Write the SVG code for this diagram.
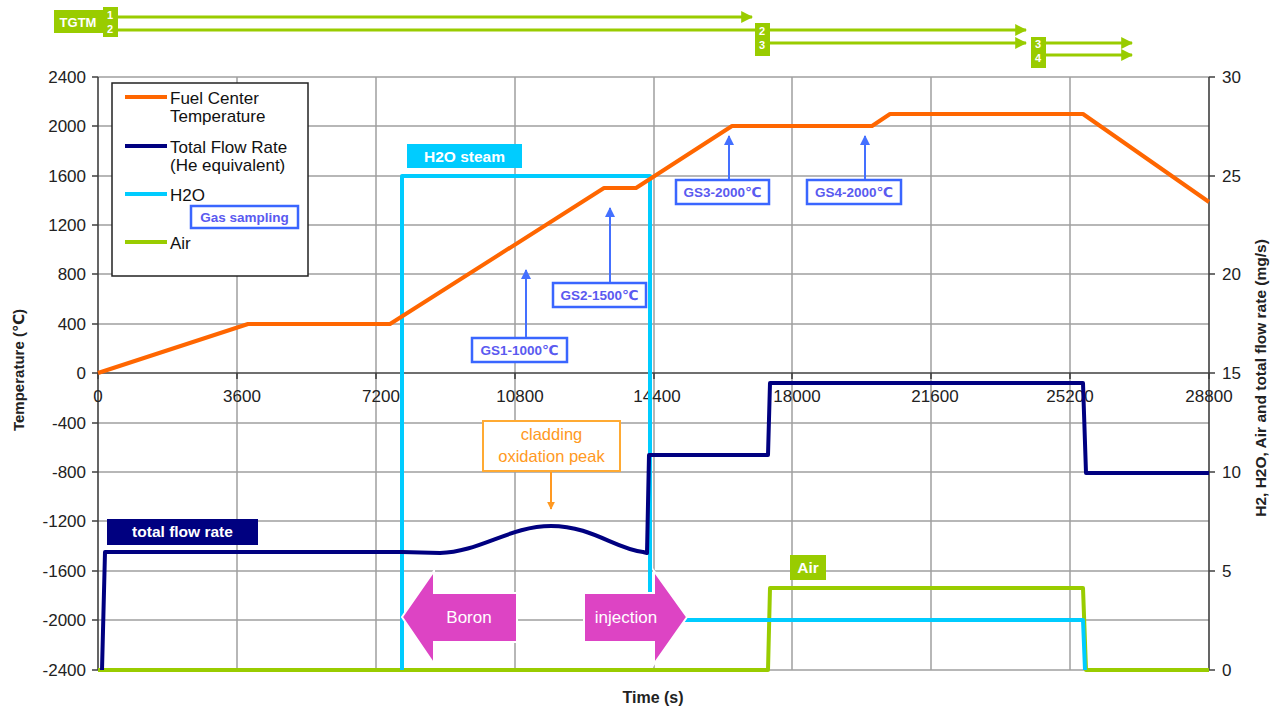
<svg xmlns="http://www.w3.org/2000/svg" width="1270" height="708" viewBox="0 0 1270 708">
<defs>
<style>
text{font-family:"Liberation Sans",Arial,"DejaVu Sans",sans-serif}
.grid{stroke:#a0a0a0;stroke-width:1.5;fill:none}
.axis{stroke:#404040;stroke-width:1.6;fill:none}
.tick{font-size:17px;fill:#222}
.leg{font-size:17px;fill:#111}
.gsbox{fill:#fff;stroke:#3a66ff;stroke-width:2.5}
.gstxt{font-size:13.5px;font-weight:bold;fill:#5a5af0}
.gsarr{stroke:#4470ff;stroke-width:2;fill:none}
.tg{fill:#99cc00}
.tgl{stroke:#99cc00;stroke-width:3;fill:none}
.tgn{font-size:11px;font-weight:bold;fill:#fff}
.curve{fill:none;stroke-width:4;stroke-linejoin:round}
.mag{fill:#dd44c4;stroke:#fff;stroke-width:2}
.magt{font-size:17px;fill:#fff}
</style>
<marker id="gah" viewBox="0 0 10 10" refX="9" refY="5" markerWidth="4" markerHeight="4" orient="auto"><path d="M0,0 L10,5 L0,10 z" fill="#99cc00"/></marker>
<marker id="bah" viewBox="0 0 10 10" refX="9" refY="5" markerWidth="5" markerHeight="5" orient="auto"><path d="M0,0 L10,5 L0,10 z" fill="#4470ff"/></marker>
<marker id="oah" viewBox="0 0 10 10" refX="9" refY="5" markerWidth="4" markerHeight="4" orient="auto"><path d="M0,0 L10,5 L0,10 z" fill="#ff9922"/></marker>
</defs>
<rect width="1270" height="708" fill="#fff"/>

<g id="grid">
<path class="grid" d="M98,77H1209M98,126H1209M98,176H1209M98,225H1209M98,274H1209M98,324H1209M98,423H1209M98,472H1209M98,521H1209M98,571H1209M98,620H1209M98,670H1209"/>
<path class="grid" d="M237,77V670M376,77V670M515,77V670M654,77V670M792,77V670M931,77V670M1070,77V670"/>
</g>

<g id="axes">
<path class="axis" d="M98,77V670M1209,77V670M98,373H1209"/>
<path class="axis" d="M92,77H98M92,126H98M92,176H98M92,225H98M92,274H98M92,324H98M92,373H98M92,423H98M92,472H98M92,521H98M92,571H98M92,620H98M92,670H98"/>
<path class="axis" d="M1209,77H1215M1209,176H1215M1209,274H1215M1209,373H1215M1209,472H1215M1209,571H1215M1209,670H1215"/>
<path class="axis" d="M98,373V379M237,373V379M376,373V379M515,373V379M654,373V379M792,373V379M931,373V379M1070,373V379M1209,373V379"/>
<g class="tick" text-anchor="end">
<text x="86" y="83">2400</text><text x="86" y="132">2000</text><text x="86" y="182">1600</text><text x="86" y="231">1200</text><text x="86" y="280">800</text><text x="86" y="330">400</text><text x="86" y="379">0</text><text x="86" y="429">-400</text><text x="86" y="478">-800</text><text x="86" y="527">-1200</text><text x="86" y="577">-1600</text><text x="86" y="626">-2000</text><text x="86" y="676">-2400</text>
</g>
<g class="tick">
<text x="1222" y="83">30</text><text x="1222" y="182">25</text><text x="1222" y="280">20</text><text x="1222" y="379">15</text><text x="1222" y="478">10</text><text x="1222" y="577">5</text><text x="1222" y="676">0</text>
</g>
<g class="tick" text-anchor="middle">
<text x="98" y="402">0</text><text x="242" y="402">3600</text><text x="381" y="402">7200</text><text x="520" y="402">10800</text><text x="657" y="402">14400</text><text x="797" y="402">18000</text><text x="935" y="402">21600</text><text x="1070" y="402">25200</text><text x="1209" y="402">28800</text>
</g>
<text x="653" y="703" text-anchor="middle" font-size="16" font-weight="bold" fill="#222">Time (s)</text>
<text transform="translate(24,370) rotate(-90)" text-anchor="middle" font-size="15" font-weight="bold" fill="#222">Temperature (℃)</text>
<text transform="translate(1266,378) rotate(-90)" text-anchor="middle" font-size="15.5" font-weight="bold" fill="#222">H2, H2O, Air and total flow rate (mg/s)</text>
</g>

<g id="tgtm">
<rect class="tg" x="54" y="10" width="49" height="23"/>
<text x="78" y="27" text-anchor="middle" font-size="13" font-weight="bold" fill="#fff">TGTM</text>
<rect class="tg" x="103" y="7" width="15" height="30"/>
<text class="tgn" x="107" y="19">1</text><text class="tgn" x="107" y="33">2</text>
<path class="tgl" d="M118,17H752" marker-end="url(#gah)"/>
<path class="tgl" d="M118,30H755"/>
<rect class="tg" x="755" y="23" width="15" height="33"/>
<text class="tgn" x="759" y="35">2</text><text class="tgn" x="759" y="49">3</text>
<path class="tgl" d="M770,30H1026" marker-end="url(#gah)"/>
<path class="tgl" d="M770,43H1026" marker-end="url(#gah)"/>
<rect class="tg" x="1031" y="37" width="15" height="31"/>
<text class="tgn" x="1035" y="48">3</text><text class="tgn" x="1035" y="62">4</text>
<path class="tgl" d="M1046,43H1132" marker-end="url(#gah)"/>
<path class="tgl" d="M1046,55H1132" marker-end="url(#gah)"/>
</g>

<g id="series">
<path id="air" class="curve" stroke="#99cc00" d="M98,670H768L770,588H1083L1086,670H1209"/>
<path id="h2o" class="curve" stroke="#00ccff" d="M402,670V176H650V620H1083L1085,670"/>
<path id="flow" class="curve" stroke="#000080" d="M102,670L105,552H402L440,553C480,552 510,526 551,526C592,526 615,549 643,552L647,553L649,455H768L770,383H1083L1086,473H1209"/>
<path id="temp" class="curve" stroke="#ff6600" d="M98,373L248,324H390L604,188H636L732,126H872L890,114H1083L1209,202"/>
</g>

<g id="legend">
<rect x="112" y="83" width="196" height="193" fill="#fff" stroke="#222" stroke-width="1.5"/>
<path d="M125,97H167" stroke="#ff6600" stroke-width="4"/>
<path d="M125,146H167" stroke="#000080" stroke-width="4"/>
<path d="M125,194H167" stroke="#00ccff" stroke-width="4"/>
<path d="M125,242H167" stroke="#99cc00" stroke-width="4"/>
<text class="leg" x="170" y="104">Fuel Center</text>
<text class="leg" x="170" y="122">Temperature</text>
<text class="leg" x="170" y="153">Total Flow Rate</text>
<text class="leg" x="170" y="171">(He equivalent)</text>
<text class="leg" x="170" y="201">H2O</text>
<text class="leg" x="170" y="249">Air</text>
<g id="gas-sampling-key"><rect class="gsbox" x="191" y="206" width="107" height="22"/><text class="gstxt" x="244.5" y="222" text-anchor="middle">Gas sampling</text></g>
</g>

<g id="h2o-steam-label">
<rect x="407" y="144" width="115" height="24" fill="#00ccff"/>
<text x="464.5" y="162" text-anchor="middle" font-size="15.5" font-weight="bold" fill="#fff">H2O steam</text>
</g>

<g id="total-flow-label">
<rect x="107" y="519" width="151" height="26" fill="#000080"/>
<text x="182.5" y="537" text-anchor="middle" font-size="15.5" font-weight="bold" fill="#fff">total flow rate</text>
</g>

<g id="air-label">
<rect x="790" y="555" width="36" height="25" fill="#99cc00"/>
<text x="808" y="573" text-anchor="middle" font-size="15.5" font-weight="bold" fill="#fff">Air</text>
</g>

<g id="cladding-label">
<rect x="483" y="421" width="137" height="50" fill="#fff" stroke="#ffaa33" stroke-width="2"/>
<text x="551.5" y="440" text-anchor="middle" font-size="16.5" fill="#ff9922">cladding</text>
<text x="551.5" y="462" text-anchor="middle" font-size="16.5" fill="#ff9922">oxidation peak</text>
</g>

<g id="gs1"><rect class="gsbox" x="472" y="338" width="95" height="24"/><text class="gstxt" x="519.5" y="355" text-anchor="middle">GS1-1000℃</text></g>
<g id="gs2"><rect class="gsbox" x="553" y="283" width="93" height="24"/><text class="gstxt" x="599.5" y="300" text-anchor="middle">GS2-1500℃</text></g>
<g id="gs3"><rect class="gsbox" x="676" y="180" width="93" height="24"/><text class="gstxt" x="722.5" y="197" text-anchor="middle">GS3-2000℃</text></g>
<g id="gs4"><rect class="gsbox" x="807" y="180" width="94" height="24"/><text class="gstxt" x="854" y="197" text-anchor="middle">GS4-2000℃</text></g>

<g id="boron-left">
<path class="mag" d="M402,617L434,571V593H517V642H434V664Z"/>
<text class="magt" x="469" y="623" text-anchor="middle">Boron</text>
</g>
<g id="boron-right">
<path class="mag" d="M687,617L654,571V593H584V642H654V664Z"/>
<text class="magt" x="626" y="623" text-anchor="middle">injection</text>
</g>

<g id="connectors">
<path class="gsarr" d="M526,337V270" marker-end="url(#bah)"/>
<path class="gsarr" d="M610,282V208" marker-end="url(#bah)"/>
<path class="gsarr" d="M729,179V136" marker-end="url(#bah)"/>
<path class="gsarr" d="M865,179V136" marker-end="url(#bah)"/>
<path d="M551,472V509" stroke="#ff9922" stroke-width="2" fill="none" marker-end="url(#oah)"/>
</g>
</svg>
